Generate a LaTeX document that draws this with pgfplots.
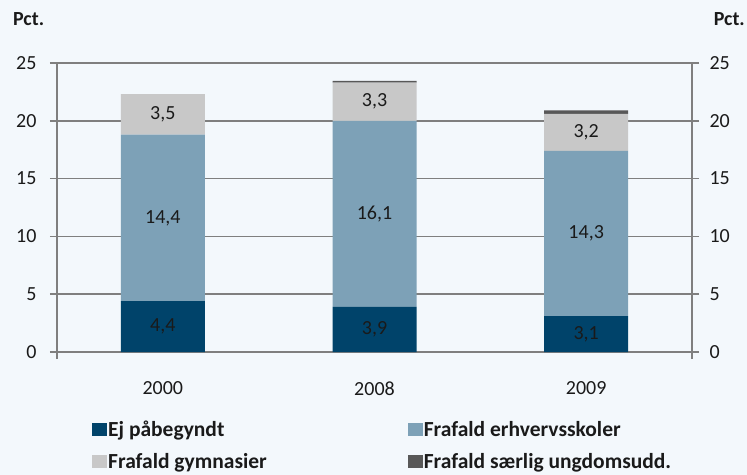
\documentclass[border=0pt]{standalone}
\usepackage{fontspec}
\setmainfont{Carlito}
\newfontfamily\legfont{Carlito Bold}
\usepackage{pgfplots}
\usepackage{pgfplotstable}
\pgfplotsset{compat=1.18}

\definecolor{bg}{HTML}{F3F8FC}
\definecolor{navy}{HTML}{00436A}
\definecolor{steel}{HTML}{7DA1B7}
\definecolor{lgray}{HTML}{C8C8C8}
\definecolor{dgray}{HTML}{585858}
\definecolor{axgray}{HTML}{7F7F7F}
\definecolor{txt}{HTML}{1A1A1A}

\newcommand{\lbl}{\fontsize{20bp}{24bp}\selectfont}

% x: 0=2000, 1=2008, 2=2009
\pgfplotstableread{
x a b c d
0 4.4 14.4 3.5 0
1 3.9 16.1 3.3 0.15
2 3.1 14.3 3.2 0.3
}\datatable
% label positions: middle of each segment
\pgfplotstablecreatecol[expr={\thisrow{a}/2}]{ma}\datatable
\pgfplotstablecreatecol[expr={\thisrow{a}+\thisrow{b}/2}]{mb}\datatable
\pgfplotstablecreatecol[expr={\thisrow{a}+\thisrow{b}+\thisrow{c}/2}]{mc}\datatable

\begin{document}
\begin{tikzpicture}
\fill[bg] (0bp,0bp) rectangle (747bp,-475bp);
\node[anchor=base west, font=\lbl\bfseries, text=txt, inner sep=0] at (13bp,-25bp) {Pct.};
\node[anchor=base east, font=\lbl\bfseries, text=txt, inner sep=0] at (745bp,-25bp) {Pct.};

\begin{axis}[
  at={(57bp,-352bp)}, anchor=south west,
  scale only axis, width=635bp, height=289bp,
  xmin=-0.5, xmax=2.5, ymin=0, ymax=25,
  ybar stacked, bar width=84bp,
  xtick={0,1,2}, xticklabels={2000,2008,2009},
  ytick={0,5,...,25},
  axis line style={draw=none},
  ymajorgrids, grid style={axgray, line width=1.5bp},
  xtick style={draw=none},
  ytick style={axgray, line width=1.5bp},
  tick align=outside, ytick pos=both, yticklabel pos=left,
  major tick length=7bp,
  ticklabel style={font=\lbl, text=txt},
  xticklabel style={yshift=-19bp},
  yticklabel style={xshift=-10bp},
  /pgf/number format/assume math mode=true,
  clip=false,
]
\addplot[fill=navy, draw=none] table[x=x, y=a] {\datatable};
\addplot[fill=steel, draw=none] table[x=x, y=b] {\datatable};
\addplot[fill=lgray, draw=none] table[x=x, y=c] {\datatable};
\addplot[fill=dgray, draw=none] table[x=x, y=d] {\datatable};
\draw[axgray, line width=2.5bp] ([yshift=-7bp]rel axis cs:0,0) -- (rel axis cs:0,1);
\draw[axgray, line width=2.5bp] ([yshift=-7bp]rel axis cs:1,0) -- (rel axis cs:1,1);
\draw[axgray, line width=2.2bp] (rel axis cs:0,0) -- (rel axis cs:1,0);
\end{axis}

\begin{axis}[
  at={(57bp,-352bp)}, anchor=south west,
  scale only axis, width=635bp, height=289bp,
  xmin=-0.5, xmax=2.5, ymin=0, ymax=25,
  xtick=\empty, ytick={0,5,...,25},
  axis line style={draw=none},
  ytick style={draw=none},
  yticklabel pos=right,
  ticklabel style={font=\lbl, text=txt},
  yticklabel style={xshift=14bp},
  /pgf/number format/assume math mode=true,
  clip=false,
  point meta=explicit,
  nodes near coords={\pgfmathprintnumber[fixed,fixed zerofill,precision=1,use comma]{\pgfplotspointmeta}},
  every node near coord/.append style={font=\lbl, text=txt, anchor=center},
  legend columns=2,
  legend cell align=left,
  legend image code/.code={\fill[#1] (0bp,-6.5bp) rectangle (15bp,6.5bp);},
  legend style={at={(0,0)}, anchor=north west, xshift=35bp, yshift=-66bp,
    draw=none, fill=none, inner sep=0pt, row sep=9bp,
    font=\legfont\fontsize{21.5bp}{24bp}\selectfont, text=txt,
    nodes={inner xsep=1bp, inner ysep=3bp},
    /tikz/every even column/.append style={column sep=140bp}},
]
\addplot[only marks, mark=none, forget plot] table[x=x, y=ma, meta=a] {\datatable};
\addplot[only marks, mark=none, forget plot] table[x=x, y=mb, meta=b] {\datatable};
\addplot[only marks, mark=none, forget plot] table[x=x, y=mc, meta=c] {\datatable};
\addlegendimage{fill=navy, draw=none}
\addlegendentry{Ej påbegyndt}
\addlegendimage{fill=steel, draw=none}
\addlegendentry{Frafald erhvervsskoler}
\addlegendimage{fill=lgray, draw=none}
\addlegendentry{Frafald gymnasier}
\addlegendimage{fill=dgray, draw=none}
\addlegendentry{Frafald særlig ungdomsudd.}
\end{axis}

\pgfresetboundingbox
\path[use as bounding box] (0bp,0bp) rectangle (747bp,-475bp);
\end{tikzpicture}
\end{document}
